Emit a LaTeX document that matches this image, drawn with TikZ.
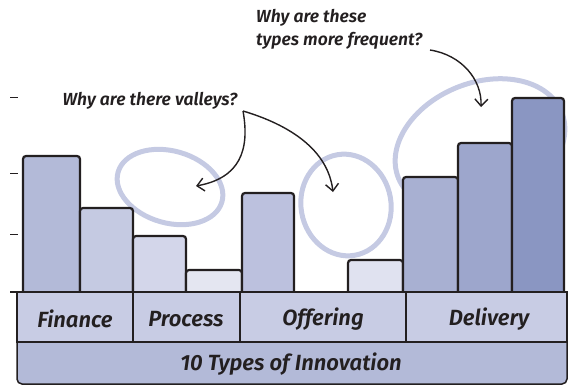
\documentclass[tikz,border=0pt]{standalone}
\usepackage{fontspec}
\setmainfont{Fira Sans}[BoldItalicFont={Fira Sans SemiBold Italic}]
\usetikzlibrary{arrows.meta,positioning}

\definecolor{ink}{HTML}{231F20}
\definecolor{ringblue}{HTML}{C5CAE3}
\definecolor{rowblue}{HTML}{C8CCE4}
\definecolor{basblue}{HTML}{B3BAD8}

\tikzset{
  bar/.style={draw=ink, line width=2.2pt, rounded corners=3pt},
  ring/.style={draw=ringblue, line width=5pt},
  note/.style={font=\fontsize{17.5}{23}\selectfont\bfseries\itshape, text=ink, inner sep=0pt},
  bandtext/.style={font=\fontsize{22}{24}\selectfont\bfseries\itshape, text=ink},
  pointer/.style={draw=ink, line width=1.4pt, -{Straight Barb[length=7pt,width=13pt,line width=1.4pt]}}
}

\begin{document}
\begin{tikzpicture}[x=1pt,y=-1pt]
\useasboundingbox (0,0) rectangle (570,386);

% rings behind the bars
\draw[ring, rotate around={-16:(170,187)}] (170,187) ellipse [x radius=54, y radius=36];
\draw[ring, rotate around={10:(346,205)}] (346,205) ellipse [x radius=45, y radius=51];
\draw[ring, rotate around={22:(480,145)}] (480,145) ellipse [x radius=88, y radius=62];

% the ten bars
\foreach \l/\r/\t/\c in {23/80/156/B3BAD8, 80/133/208/C5CAE2, 133/186/236/D3D6EA,
    186/242/270/E4E6F1, 242/294/193/BCC1DE, 348/403/260/E0E2F0,
    403/458/177/A8B0D2, 458/512/143/9DA6CC, 512/564/98/8A96C2} {
  \definecolor{barfill}{HTML}{\c}
  \draw[bar, fill=barfill] (\l,292) -- (\l,\t) -- (\r,\t) -- (\r,292);
}

% axis ticks
\foreach \y in {97,173,234} \draw[ink, line width=1pt] (10,\y) -- (18,\y);
\draw[ink, line width=1.2pt] (10,292) -- (567,292);

% category row and base row
\draw[ink, line width=1.5pt, fill=basblue, rounded corners=5pt]
  (17,342) -- (17,384) -- (567,384) -- (567,342);
\draw[ink, line width=1.5pt, fill=rowblue] (17,292) rectangle (567,342);
\foreach \x in {133,240,406} \draw[ink, line width=1.5pt] (\x,292) -- (\x,342);

\node[bandtext] (finance)  at (75,319)  {Finance};
\node[bandtext] (process)  at (186,319) {Process};
\node[bandtext] (offering) at (323,319) {Offering};
\node[bandtext] (delivery) at (489,319) {Delivery};
\node[bandtext] (types)    at (291,364) {10 Types of Innovation};

% questions
\node[note] (valleys) at (150,101) {Why are there valleys?};
\node[note, align=left, anchor=north west] (frequent) at (256,9)
  {Why are these\\types more frequent?};

\coordinate (valleysend) at (243,111);
\coordinate (frequentend) at (430,50);
\coordinate (tipvalleyA) at (196,186);
\coordinate (tipvalleyB) at (333,192);
\coordinate (tipfrequent) at (481,107);

\draw[pointer] (valleysend) .. controls (250,150) and (240,178) .. (tipvalleyA);
\draw[pointer] (valleysend) .. controls (290,125) and (328,150) .. (tipvalleyB);
\draw[pointer] (frequentend) .. controls (462,55) and (482,80) .. (tipfrequent);
\end{tikzpicture}
\end{document}
